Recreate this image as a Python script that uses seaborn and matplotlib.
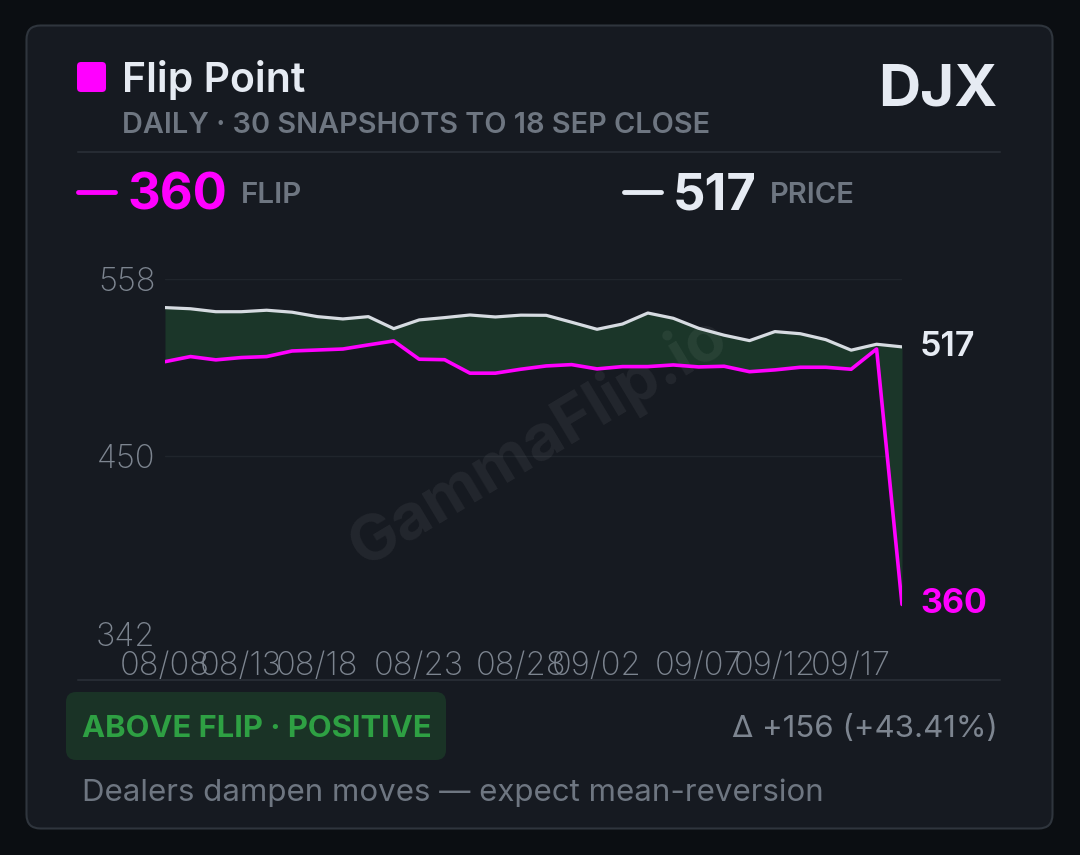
import numpy as np
import pandas as pd
import matplotlib
matplotlib.use("Agg")
import matplotlib.pyplot as plt
import seaborn as sns
from matplotlib.patches import FancyBboxPatch

# 30 daily snapshots, DJX
price = [540.6, 539.9, 538.1, 538.1, 539.0, 537.8, 535.1, 533.7, 535.1, 527.8,
         533.1, 534.5, 536.1, 534.9, 536.0, 535.9, 531.7, 527.4, 530.6, 537.3,
         534.1, 528.0, 523.8, 520.5, 526.0, 524.7, 521.1, 514.7, 518.3, 516.7]
flip = [507.7, 510.8, 508.8, 510.2, 510.8, 514.2, 514.8, 515.4, 517.9, 520.3,
        509.2, 508.9, 500.7, 500.7, 503.1, 505.1, 505.9, 503.3, 504.7, 504.7,
        505.7, 504.5, 504.9, 501.6, 502.7, 504.3, 504.3, 503.1, 515.4, 360.0]
tick_idx = [0, 3, 6, 10, 14, 17, 21, 24, 27]
tick_labels = ["08/08", "08/13", "08/18", "08/23", "08/28", "09/02", "09/07", "09/12", "09/17"]
y_ticks = [342, 450, 558]

df = pd.DataFrame({"snap": np.arange(len(price)), "price": price, "flip": flip})

BG = "#0b0e12"
CARD = "#161a21"
BORDER = "#2f353d"
SEP = "#262b33"
MAG = "#ff00ff"
WHITE = "#e6ebf3"
LINE_W = "#d6dbe1"
GRAY = "#6e7681"
TICK = "#7d8590"
FILL = "#1b3629"

sns.set_theme(style="dark")
plt.rcParams["font.family"] = ["Inter", "DejaVu Sans"]

fig = plt.figure(figsize=(10.8, 8.55), dpi=100, facecolor=BG)
bg = fig.add_axes([0, 0, 1, 1])
bg.set_xlim(0, 1080)
bg.set_ylim(855, 0)
bg.axis("off")

# card
bg.add_patch(FancyBboxPatch((26.5, 25.5), 1026, 803, boxstyle="round,pad=0,rounding_size=14",
                            fc=CARD, ec=BORDER, lw=1.5))

# header
bg.add_patch(FancyBboxPatch((77, 62), 29, 30, boxstyle="round,pad=0,rounding_size=4", fc=MAG, ec="none"))
bg.text(122, 92, "Flip Point", color=WHITE, fontsize=29.5, fontweight="semibold", va="baseline")
bg.text(122, 133, "DAILY · 30 SNAPSHOTS TO 18 SEP CLOSE", color=GRAY, fontsize=20.8,
        fontweight="semibold", va="baseline")
bg.text(997, 106, "DJX", color=WHITE, fontsize=42, fontweight="bold", ha="right", va="baseline")
bg.plot([78, 1000], [152, 152], color=SEP, lw=1.5)

# legend row
bg.plot([78, 115], [192, 192], color=MAG, lw=3.5, solid_capstyle="round")
bg.text(128, 209, f"{flip[-1]:.0f}", color=MAG, fontsize=36.5, fontweight="bold", va="baseline")
bg.text(241, 203, "FLIP", color=GRAY, fontsize=21.3, fontweight="semibold", va="baseline")
bg.plot([624, 661], [192, 192], color=WHITE, lw=3.5, solid_capstyle="round")
bg.text(673, 209, f"{price[-1]:.0f}", color=WHITE, fontsize=36.5, fontweight="bold", va="baseline")
bg.text(770, 203, "PRICE", color=GRAY, fontsize=21, fontweight="semibold", va="baseline")

# chart
ax = fig.add_axes([165 / 1080, 221 / 855, 737 / 1080, 355 / 855])
ax.patch.set_alpha(0)
ax.fill_between(df["snap"], df["flip"], df["price"], where=df["price"] >= df["flip"],
                interpolate=True, color=FILL, lw=0, zorder=1)
ax.text(538, 442, "GammaFlip.io", transform=bg.transData, rotation=31, ha="center", va="center",
        fontsize=46, fontweight="bold", color="white", alpha=0.06, zorder=1.5)
sns.lineplot(data=df, x="snap", y="price", ax=ax, color=LINE_W, lw=2.3, zorder=3)
sns.lineplot(data=df, x="snap", y="flip", ax=ax, color=MAG, lw=2.6, zorder=4)
ax.set_xlim(0, len(price) - 1)
ax.set_ylim(y_ticks[0], y_ticks[-1])
ax.set_xticks(tick_idx)
ax.set_xticklabels(tick_labels)
ax.set_yticks(y_ticks)
ax.set_yticklabels([str(t) for t in y_ticks])
ax.set_xlabel("")
ax.set_ylabel("")
for s in ax.spines.values():
    s.set_visible(False)
ax.tick_params(axis="both", length=0, colors=TICK, labelsize=23.5)
ax.tick_params(axis="x", pad=12)
ax.tick_params(axis="y", pad=7)
for lab in ax.get_xticklabels() + ax.get_yticklabels():
    lab.set_fontweight("light")
for lab in ax.get_yticklabels():
    lab.set_va("center_baseline")
ax.yaxis.grid(True, color="#20252c", lw=1)
ax.xaxis.grid(False)
ax.get_ygridlines()[0].set_visible(False)

ax.annotate(f"{price[-1]:.0f}", xy=(df["snap"].iloc[-1], price[-1]), xytext=(18, 0),
            textcoords="offset pixels", color=WHITE, fontsize=24.5, fontweight="semibold", va="center")
ax.annotate(f"{flip[-1]:.0f}", xy=(df["snap"].iloc[-1], flip[-1]), xytext=(18, 0),
            textcoords="offset pixels", color=MAG, fontsize=24.5, fontweight="bold", va="center")

# footer
bg.plot([78, 1000], [680, 680], color=SEP, lw=1.5)
bg.add_patch(FancyBboxPatch((66, 692), 380, 68, boxstyle="round,pad=0,rounding_size=10",
                            fc="#1a3326", ec="none"))
bg.text(82, 729, "ABOVE FLIP · POSITIVE", color="#2ea043", fontsize=22.3, fontweight="bold", va="center")
bg.text(998, 729, "Δ +156 (+43.41%)", color=TICK, fontsize=22.5, ha="right", va="center")
bg.text(82, 793, "Dealers dampen moves — expect mean-reversion", color=GRAY, fontsize=22.5, va="center")

fig.savefig("out.png", dpi=100, facecolor=BG)
